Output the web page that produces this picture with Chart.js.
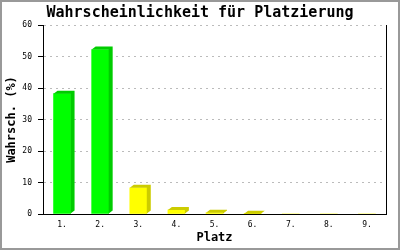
<!DOCTYPE html>
<html>
<head>
<meta charset="utf-8">
<script src="https://cdn.jsdelivr.net/npm/chart.js@4/dist/chart.umd.min.js"></script>
<style>
html,body{margin:0;padding:0;background:#fff;}
#wrap{width:400px;height:250px;}
</style>
</head>
<body>
<div id="wrap"><canvas id="c" width="400" height="250"></canvas></div>
<script>
const chartTitle = "Wahrscheinlichkeit für Platzierung";
const xTitle = "Platz";
const yTitle = "Wahrsch. (%)";
const categories = ["1.", "2.", "3.", "4.", "5.", "6.", "7.", "8.", "9."];
const probabilities = [38.2, 52.2, 8.3, 1.3, 0.4, 0.1, 0, 0, 0];
const yTicks = [0, 10, 20, 30, 40, 50, 60];
const frontColors = ["#00ff00", "#00ff00", "#ffff00", "#ffff00", "#ffff00", "#ffff00", "#ffff00", "#ffff00", "#ffff00"];
const sideColors = ["#00cc00", "#00cc00", "#cccc00", "#cccc00", "#cccc00", "#cccc00", "#cccc00", "#cccc00", "#cccc00"];

const MONO = "'DejaVu Sans Mono', 'Liberation Mono', monospace";

const bar3d = {
  id: 'bar3d',
  afterDatasetsDraw(chart) {
    const ctx = chart.ctx;
    const meta = chart.getDatasetMeta(0);
    const dx = 4, dy = 3;
    meta.data.forEach((bar, i) => {
      if (probabilities[i] <= 0) return;
      const p = bar.getProps(['x', 'y', 'base', 'width'], true);
      const l = p.x - p.width / 2, r = p.x + p.width / 2, t = p.y, b = p.base;
      ctx.save();
      ctx.fillStyle = sideColors[i];
      ctx.beginPath();
      ctx.moveTo(l, t); ctx.lineTo(l + dx, t - dy); ctx.lineTo(r + dx, t - dy);
      ctx.lineTo(r + dx, b - dy); ctx.lineTo(r, b); ctx.lineTo(r, t);
      ctx.closePath();
      ctx.fill();
      ctx.restore();
    });
  }
};

const frame = {
  id: 'frame',
  beforeDraw(chart) {
    const ctx = chart.ctx;
    ctx.save();
    ctx.fillStyle = '#fff';
    ctx.fillRect(0, 0, chart.width, chart.height);
    ctx.restore();
  },
  afterDraw(chart) {
    const ctx = chart.ctx;
    ctx.save();
    ctx.strokeStyle = '#999';
    ctx.lineWidth = 2;
    ctx.strokeRect(1, 1, chart.width - 2, chart.height - 2);
    ctx.restore();
  }
};

new Chart(document.getElementById('c'), {
  type: 'bar',
  data: {
    labels: categories,
    datasets: [{
      data: probabilities,
      backgroundColor: frontColors,
      borderWidth: 0,
      barThickness: 17
    }]
  },
  options: {
    responsive: false,
    animation: false,
    devicePixelRatio: 1,
    layout: { padding: 0 },
    plugins: {
      legend: { display: false },
      tooltip: { enabled: false },
      title: {
        display: true,
        text: chartTitle,
        color: '#000',
        font: { family: MONO, size: 15, weight: 'bold', lineHeight: 1.2 },
        padding: { top: 4, bottom: 3 }
      }
    },
    scales: {
      x: {
        grid: { display: false, drawTicks: false },
        border: { display: true, color: '#000', width: 1 },
        ticks: { color: '#000', font: { family: MONO, size: 8 }, padding: 6, maxRotation: 0 },
        title: {
          display: true, text: xTitle, color: '#000',
          font: { family: MONO, size: 12, weight: 'bold', lineHeight: 1.2 },
          padding: { top: 0, bottom: 5 }
        },
        afterFit(s) { s.height = 36; }
      },
      y: {
        min: 0, max: 60,
        afterBuildTicks(s) { s.ticks = yTicks.map(v => ({ value: v })); },
        grid: { color: '#bbbbbb', lineWidth: 1, tickColor: '#000', tickLength: 5, drawTicks: true },
        border: { display: true, color: '#000', width: 1, dash: [2, 4] },
        ticks: { color: '#000', font: { family: MONO, size: 8 }, padding: 6 },
        title: {
          display: true, text: yTitle, color: '#000',
          font: { family: MONO, size: 12, weight: 'bold', lineHeight: 1.2 },
          padding: { top: 5, bottom: 0 }
        },
        afterFit(s) { s.width = 43; }
      },
      yRight: {
        type: 'linear',
        position: 'right',
        min: 0, max: 60,
        grid: { display: false, drawTicks: false },
        border: { display: true, color: '#000', width: 1 },
        ticks: { display: false },
        afterFit(s) { s.width = 14; }
      }
    }
  },
  plugins: [frame, bar3d]
});
</script>
</body>
</html>
